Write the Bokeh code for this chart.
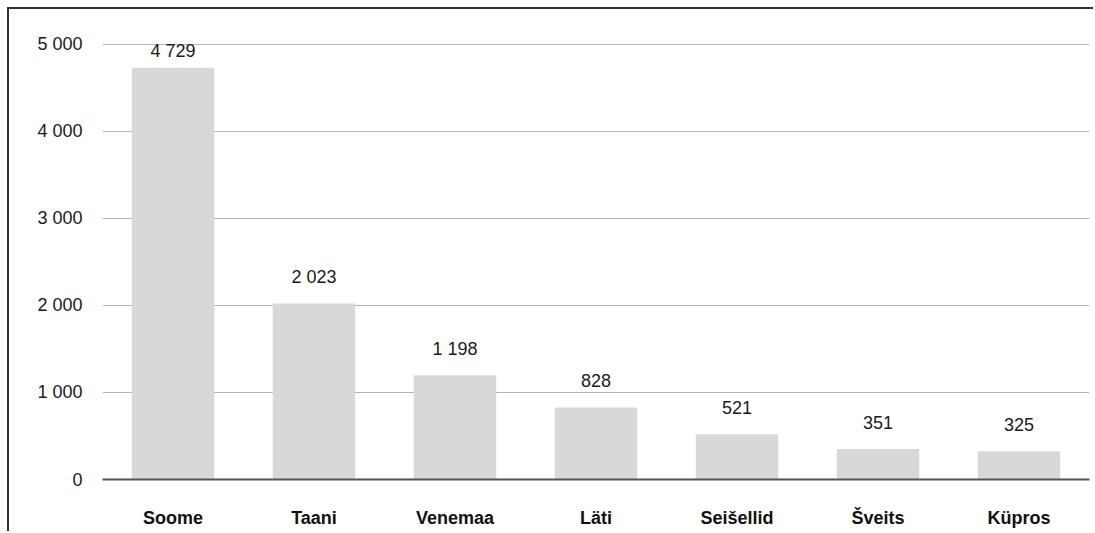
from bokeh.plotting import figure
from bokeh.models import ColumnDataSource, FactorRange, Range1d, FixedTicker, LabelSet
from bokeh.core.properties import value
from bokeh.embed import file_html
from bokeh.resources import INLINE

countries = ["Soome", "Taani", "Venemaa", "Läti", "Seišellid", "Šveits", "Küpros"]
values = [4729, 2023, 1198, 828, 521, 351, 325]
y_ticks = [0, 1000, 2000, 3000, 4000, 5000]


def fmt(v):
    return f"{v:,}".replace(",", " ")


FONT = "Liberation Sans"
FS = "18px"
Y_TOP_TICK = 5000
Y_MAX = 5020
FRAME_H = 437
LABEL_GAP = 20          # px between bar top and label baseline
CAP_H = 12.5            # approx digit height at 18px
px_per_unit = FRAME_H / Y_MAX
# keep value labels below the top gridline (label is pushed down when near the top)
offsets = [min(LABEL_GAP, (Y_TOP_TICK - v) * px_per_unit - CAP_H) for v in values]

src = ColumnDataSource(dict(x=countries, top=values, label=[fmt(v) for v in values],
                            off=offsets))

p = figure(
    x_range=FactorRange(*countries, range_padding=0),
    y_range=Range1d(0, Y_MAX),
    width=1086, height=524,
    min_border_left=93, min_border_right=6, min_border_top=33, min_border_bottom=54,
    output_backend="svg", toolbar_location=None,
)
p.styles = {"border-top": "2px solid #333", "border-left": "2px solid #333",
            "margin-top": "7px", "margin-left": "7px"}
p.outline_line_color = None
p.background_fill_color = "white"
p.border_fill_color = "white"

p.vbar(x="x", top="top", width=0.585, source=src, fill_color="#d8d8da", line_color=None)

labels = LabelSet(x="x", y="top", text="label", source=src, text_align="center",
                  text_baseline="alphabetic", y_offset="off", text_font=value(FONT),
                  text_font_size=FS, text_color="#1a1a1a")
p.add_layout(labels)

p.xgrid.grid_line_color = None
p.ygrid.grid_line_color = "#b4b4b4"
p.ygrid.grid_line_width = 1
p.ygrid.ticker = FixedTicker(ticks=y_ticks)

p.yaxis.ticker = FixedTicker(ticks=y_ticks)
p.yaxis.major_label_overrides = {t: fmt(t) for t in y_ticks}
p.yaxis.axis_line_color = None
p.yaxis.major_tick_line_color = None
p.yaxis.minor_tick_line_color = None
p.yaxis.major_label_standoff = 14
p.yaxis.major_label_text_font = FONT
p.yaxis.major_label_text_font_size = FS
p.yaxis.major_label_text_color = "#1a1a1a"

p.xaxis.axis_line_color = "#555555"
p.xaxis.axis_line_width = 2
p.xaxis.major_tick_line_color = None
p.xaxis.minor_tick_line_color = None
p.xaxis.major_label_standoff = 22
p.xaxis.major_label_text_font = FONT
p.xaxis.major_label_text_font_style = "bold"
p.xaxis.major_label_text_font_size = FS
p.xaxis.major_label_text_color = "#111111"

open("out.html", "w").write(file_html(p, INLINE))
